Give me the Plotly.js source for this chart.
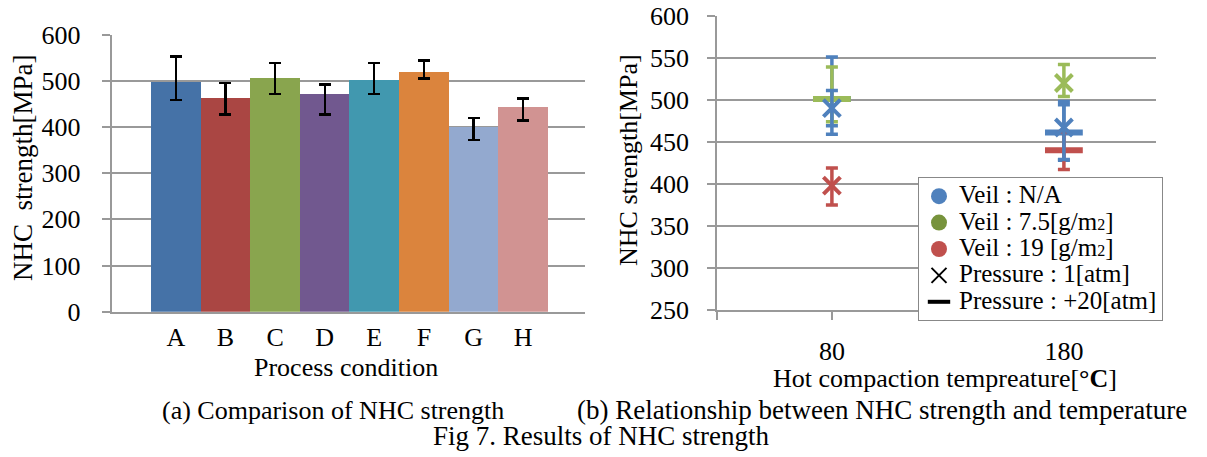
<!DOCTYPE html>
<html>
<head>
<meta charset="utf-8">
<script src="https://cdn.plot.ly/plotly-3.0.1.min.js"></script>
<style>html,body{margin:0;padding:0;background:#fff;}#chart{width:1207px;height:457px;}</style>
</head>
<body>
<div id="chart"></div>
<script>
// ---- Left chart data: NHC strength by process condition ----
const conditions = ['A', 'B', 'C', 'D', 'E', 'F', 'G', 'H'];
const strength = [497, 462, 506, 471, 502, 519, 401, 443];
const errPlus = [56, 34, 33, 21, 37, 25, 18, 19];
const errMinus = [39, 35, 35, 44, 31, 14, 29, 29];
const barColors = ['#4572A7', '#AA4643', '#89A54E', '#71588F', '#4198AF', '#DB843D', '#93A9CF', '#D19392'];

// ---- Right chart data: strength vs hot compaction temperature ----
const temps = ['80', '180'];
const naP1 = [490, 467];       const naP1Plus = [21, 31];   const naP1Minus = [21, 38];
const naP20 = [501, 461];      const naP20Plus = [50, 33];  const naP20Minus = [42, 33];
const v75P1 = [null, 520];     const v75P1Plus = [0, 22];   const v75P1Minus = [0, 16];
const v75P20 = [501, null];    const v75P20Plus = [38, 0];  const v75P20Minus = [27, 0];
const v19P1 = [398, null];     const v19P1Plus = [21, 0];   const v19P1Minus = [23, 0];
const v19P20 = [null, 440];    const v19P20Plus = [0, 22];  const v19P20Minus = [0, 23];

const legendNames = ['Veil : N/A', 'Veil : 7.5[g/m<span style="font-size:16px">2</span>]',
  'Veil : 19 [g/m<span style="font-size:16px">2</span>]', 'Pressure : 1[atm]', 'Pressure : +20[atm]'];

const BLUE = '#4F81BD', GREEN = '#9BBB59', RED = '#C0504D';
const FONT = 'Liberation Serif, Times New Roman, serif';
const W = 1207, H = 457;
const px = v => v / W;
const py = v => 1 - v / H;
const big = s => '<span style="font-size:25px">' + s + '</span>';

const tIdx = temps.map((t, i) => i);
const xMin = -0.494, xMax = 1.397;

function xTrace(y, plus, minus, color) {
  return {
    type: 'scatter', mode: 'markers', x: tIdx, y: y, xaxis: 'x2', yaxis: 'y2', showlegend: false,
    marker: {symbol: 'x-thin-open', size: 17, color: color, line: {color: color, width: 4}},
    error_y: {type: 'data', symmetric: false, array: plus, arrayminus: minus, color: color, thickness: 3.5, width: 6}
  };
}
function dashTrace(y, plus, minus, color) {
  return {
    type: 'scatter', mode: 'markers', x: tIdx, y: y, xaxis: 'x2', yaxis: 'y2', showlegend: false,
    marker: {symbol: 'line-ew-open', size: 27, color: color, line: {color: color, width: 6}},
    error_y: {type: 'data', symmetric: false, array: plus, arrayminus: minus, color: color, thickness: 3.5, width: 6}
  };
}
function legendTrace(name, marker) {
  return {type: 'scatter', mode: 'markers', x: [null], y: [null], xaxis: 'x2', yaxis: 'y2',
          name: big(name), marker: marker};
}

const traces = [
  {
    type: 'bar', x: conditions, y: strength, xaxis: 'x', yaxis: 'y', showlegend: false,
    marker: {color: barColors, line: {width: 0}},
    error_y: {type: 'data', symmetric: false, array: errPlus, arrayminus: errMinus, color: '#000', thickness: 2.2, width: 6}
  },
  dashTrace(naP20, naP20Plus, naP20Minus, BLUE),
  dashTrace(v75P20, v75P20Plus, v75P20Minus, GREEN),
  dashTrace(v19P20, v19P20Plus, v19P20Minus, RED),
  xTrace(naP1, naP1Plus, naP1Minus, BLUE),
  xTrace(v75P1, v75P1Plus, v75P1Minus, GREEN),
  xTrace(v19P1, v19P1Plus, v19P1Minus, RED),
  legendTrace(legendNames[0], {symbol: 'circle', size: 18, color: BLUE}),
  legendTrace(legendNames[1], {symbol: 'circle', size: 18, color: '#77933C'}),
  legendTrace(legendNames[2], {symbol: 'circle', size: 18, color: RED}),
  legendTrace(legendNames[3], {symbol: 'x-thin-open', size: 15, color: '#000', line: {color: '#000', width: 2}}),
  legendTrace(legendNames[4], {symbol: 'line-ew-open', size: 17, color: '#000', line: {color: '#000', width: 4}})
];

const GRID = '#999999';
const TF = {family: FONT, size: 26, color: '#000'};
const layout = {
  width: W, height: H,
  margin: {l: 0, r: 0, t: 0, b: 0},
  paper_bgcolor: '#fff', plot_bgcolor: '#fff',
  font: {family: FONT, size: 24, color: '#000'},
  bargap: 0,
  showlegend: true,
  xaxis: {
    domain: [px(111.7), px(585)], anchor: 'y', type: 'category',
    range: [-1.292, 8.246], showgrid: false, zeroline: false,
    showline: true, linecolor: GRID, linewidth: 2, ticks: '', ticklabelstandoff: 1,
    tickfont: TF
  },
  yaxis: {
    domain: [py(311.7), py(34.7)], anchor: 'x',
    range: [0, 600], dtick: 100, showgrid: true, gridcolor: GRID, gridwidth: 2,
    zeroline: false, showline: true, linecolor: GRID, linewidth: 2,
    ticks: 'outside', ticklen: 8, tickcolor: GRID, tickwidth: 2, ticklabelstandoff: 16,
    tickfont: TF
  },
  xaxis2: {
    domain: [px(717.3), px(1156)], anchor: 'y2',
    range: [xMin, xMax], showgrid: false, zeroline: false,
    showline: true, linecolor: GRID, linewidth: 2,
    tickmode: 'array', tickvals: [xMin, 0, 0.5, 1], ticktext: ['', temps[0], '', temps[1]],
    ticks: 'outside', ticklen: 8, tickcolor: GRID, tickwidth: 2, ticklabelstandoff: 9,
    tickfont: TF
  },
  yaxis2: {
    domain: [py(310), py(15.7)], anchor: 'x2',
    range: [250, 600], dtick: 50, showgrid: true, gridcolor: GRID, gridwidth: 2,
    zeroline: false, showline: true, linecolor: GRID, linewidth: 2,
    ticks: 'outside', ticklen: 8, tickcolor: GRID, tickwidth: 2, ticklabelstandoff: 13,
    tickfont: TF
  },
  legend: {
    x: px(918), y: py(177), xanchor: 'left', yanchor: 'top',
    bgcolor: '#fff', bordercolor: '#888', borderwidth: 1,
    font: {family: FONT, size: 18, color: '#000'},
    itemwidth: 30, tracegroupgap: 0
  },
  annotations: [
    {text: 'NHC\u2002strength[MPa]', xref: 'paper', yref: 'paper', x: px(23), y: py(168), textangle: -90,
     showarrow: false, xanchor: 'center', yanchor: 'middle', font: {family: FONT, size: 27}},
    {text: 'Process condition', xref: 'paper', yref: 'paper', x: px(346), y: py(367),
     showarrow: false, xanchor: 'center', yanchor: 'middle', font: {family: FONT, size: 26}},
    {text: 'NHC strength[MPa]', xref: 'paper', yref: 'paper', x: px(628), y: py(160), textangle: -90,
     showarrow: false, xanchor: 'center', yanchor: 'middle', font: {family: FONT, size: 26}},
    {text: 'Hot compaction tempreature[<b>°C</b>]', xref: 'paper', yref: 'paper', x: px(945), y: py(378),
     showarrow: false, xanchor: 'center', yanchor: 'middle', font: {family: FONT, size: 26}},
    {text: '(a) Comparison of NHC strength', xref: 'paper', yref: 'paper', x: px(333), y: py(410),
     showarrow: false, xanchor: 'center', yanchor: 'middle', font: {family: FONT, size: 26}},
    {text: '(b) Relationship between NHC strength and temperature', xref: 'paper', yref: 'paper', x: px(882), y: py(410),
     showarrow: false, xanchor: 'center', yanchor: 'middle', font: {family: FONT, size: 27}},
    {text: 'Fig 7. Results of NHC strength', xref: 'paper', yref: 'paper', x: px(601), y: py(436),
     showarrow: false, xanchor: 'center', yanchor: 'middle', font: {family: FONT, size: 27}}
  ]
};

Plotly.newPlot('chart', traces, layout, {displayModeBar: false, staticPlot: true});
</script>
</body>
</html>
